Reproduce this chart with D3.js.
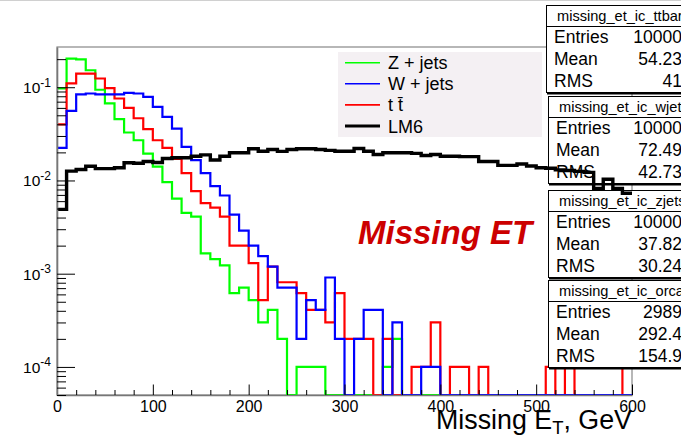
<!DOCTYPE html>
<html>
<head>
<meta charset="utf-8">
<script src="https://cdn.jsdelivr.net/npm/d3@7"></script>
<style>
body { margin: 0; background: #fff; }
text { font-family: "Liberation Sans", Arial, Helvetica, sans-serif; }
</style>
</head>
<body>
<svg id="chart" width="681" height="435"></svg>
<script>
// histogram contents, 60 bins of 10 GeV from 0 to 600 (normalised)
const binWidth = 10;
const zjets = [0.097, 0.203, 0.199, 0.152, 0.094, 0.067, 0.0454, 0.0327, 0.027, 0.0194,
    0.0141, 0.0096, 0.0064, 0.0045, 0.0041, 0.00165, 0.00143, 0.00123, 0.00062, 0.00071,
    0.00052, 0.0003, 0.00041, 0.0002, 0, 0.0001, 0.0001, 0.0001, 0, 0,
    0, 0, 0, 0, 0.0001, 0.0002, 0, 0, 0, 0,
    0, 0, 0, 0, 0, 0, 0, 0, 0, 0,
    0, 0, 0, 0, 0, 0, 0, 0, 0, 0];
const ttbar = [0.040, 0.11, 0.14, 0.14, 0.124, 0.098, 0.0757, 0.06, 0.0465, 0.0355,
    0.027, 0.0224, 0.017, 0.012, 0.0077, 0.0057, 0.0051, 0.0041, 0.002, 0.002,
    0.0013, 0.00052, 0.00119, 0.00081, 0.00081, 0.00062, 0.00041, 0.00041, 0.0003, 0.00062,
    0.0002, 0.0002, 0.0002, 0, 0.0002, 0, 0, 0.0001, 0.0001, 0.0003,
    0, 0.0001, 0.0001, 0, 0.0001, 0, 0, 0, 0, 0,
    0, 0.0001, 0, 0.0001, 0, 0, 0, 0, 0, 0.0001];
const wjets = [0.0224, 0.0557, 0.084, 0.0856, 0.084, 0.084, 0.084, 0.087, 0.0856, 0.0787,
    0.0615, 0.048, 0.036, 0.0229, 0.0165, 0.012, 0.0087, 0.0069, 0.0043, 0.0029,
    0.002, 0.00154, 0.00119, 0.00071, 0.00071, 0.0002, 0.00052, 0.00041, 0.00091, 0.0002,
    0, 0.0002, 0.00041, 0.00041, 0, 0.0003, 0, 0, 0.0001, 0.0001,
    0, 0, 0, 0, 0, 0, 0, 0, 0, 0,
    0, 0, 0, 0, 0, 0, 0, 0, 0, 0];
const lm6 = [0.0049, 0.0126, 0.0131, 0.0142, 0.0134, 0.0134, 0.0137, 0.0155, 0.0153, 0.016,
    0.0156, 0.0172, 0.0175, 0.0175, 0.0182, 0.0188, 0.0166, 0.0182, 0.0198, 0.0198,
    0.0219, 0.0206, 0.0215, 0.0205, 0.0215, 0.0219, 0.0219, 0.0215, 0.021, 0.0206,
    0.0206, 0.022, 0.0206, 0.019, 0.0198, 0.0198, 0.0198, 0.0195, 0.0185, 0.019,
    0.0182, 0.0182, 0.018, 0.018, 0.016, 0.016, 0.0145, 0.0145, 0.015, 0.0143,
    0.0137, 0.0135, 0.013, 0.0128, 0.0125, 0.0122, 0.0082, 0.0103, 0.0082, 0.0073];

const xTicks = [0, 100, 200, 300, 400, 500, 600];
const yTicks = [1e-4, 1e-3, 1e-2, 1e-1];
const yExponents = ["-4", "-3", "-2", "-1"];

const legendLabels = ["Z + jets", "W + jets", "t t\u0304", "LM6"];
const legendColors = ["#00ff00", "#0000ff", "#ff0000", "#000000"];

const statNames = ["missing_et_ic_ttbar", "missing_et_ic_wjets", "missing_et_ic_zjets", "missing_et_ic_orca"];
const statEntries = ["10000", "10000", "10000", "2989"];
const statMeans = ["54.23", "72.49", "37.82", "292.4"];
const statRms = ["41", "42.73", "30.24", "154.9"];

let svg = d3.select("#chart");

svg.append("rect")
    .attr("width", 681).attr("height", 435)
    .attr("fill", "#fff");
svg.append("line")
    .attr("x1", 0).attr("x2", 681).attr("y1", 0.5).attr("y2", 0.5)
    .attr("stroke", "#d0d0d0");

let x = d3.scaleLinear().domain([0, 600]).range([57, 632]);
let y = d3.scaleLog().domain([5e-5, 0.27]).range([395, 47]);

// frame
svg.append("rect")
    .attr("x", x(0)).attr("y", y(0.27))
    .attr("width", x(600) - x(0)).attr("height", y(5e-5) - y(0.27))
    .attr("fill", "none")
    .attr("stroke", "#888")
    .attr("stroke-width", 1.2);

function steps(values) {
    let pts = values.map((v, i) => [i * binWidth, v]);
    pts.push([values.length * binWidth, values[values.length - 1]]);
    return pts;
}

let line = d3.line()
    .x(d => x(d[0]))
    .y(d => d[1] > 0 ? y(d[1]) : y.range()[0])
    .curve(d3.curveStepAfter);

function drawHist(values, color, width) {
    svg.append("path")
        .datum(steps(values))
        .attr("d", line)
        .attr("fill", "none")
        .attr("stroke", color)
        .attr("stroke-width", width)
        .attr("stroke-linejoin", "miter");
}

drawHist(zjets, "#00ff00", 2.2);
drawHist(ttbar, "#ff0000", 2.2);
drawHist(wjets, "#0000ff", 2.2);

// legend
let legend = svg.append("g");
legend.append("rect")
    .attr("x", 338).attr("y", 52)
    .attr("width", 204).attr("height", 85)
    .attr("fill", "#f4f0f3");
legendLabels.forEach(function (label, i) {
    let ly = 62.7 + i * 21.1;
    legend.append("line")
        .attr("x1", 345).attr("x2", 380)
        .attr("y1", ly).attr("y2", ly)
        .attr("stroke", legendColors[i])
        .attr("stroke-width", i == 3 ? 3 : 1.6);
    legend.append("text")
        .attr("x", 388).attr("y", ly + 6.5)
        .style("font-size", "18px")
        .text(label);
});

// stat boxes
let boxTops = [5, 96, 190, 280];
let boxLefts = [546, 548, 548, 548];
statNames.forEach(function (name, i) {
    let g = svg.append("g").attr("transform", "translate(" + boxLefts[i] + "," + boxTops[i] + ")");
    g.append("rect")
        .attr("x", 0.5).attr("y", 0.5)
        .attr("width", 200).attr("height", 87)
        .attr("fill", "#fff")
        .attr("stroke", "#000");
    g.append("line")
        .attr("x1", 1).attr("x2", 201).attr("y1", 88.5).attr("y2", 88.5)
        .attr("stroke", "#000").attr("stroke-width", 2);
    g.append("line")
        .attr("x1", 0).attr("x2", 200).attr("y1", 21.5).attr("y2", 21.5)
        .attr("stroke", "#000");
    g.append("text")
        .attr("x", 11).attr("y", 16)
        .style("font-size", "14.6px")
        .text(name);
    let rows = [["Entries", statEntries[i]], ["Mean", statMeans[i]], ["RMS", statRms[i]]];
    rows.forEach(function (r, j) {
        let ry = 38 + j * 22;
        g.append("text")
            .attr("x", 8).attr("y", ry)
            .style("font-size", "17.5px")
            .text(r[0]);
        g.append("text")
            .attr("x", 682 - boxLefts[i]).attr("y", ry)
            .attr("text-anchor", "end")
            .style("font-size", "17.5px")
            .text(r[1]);
    });
});

drawHist(lm6, "#000000", 3.4);

// x axis
let xAxis = d3.axisBottom(x)
    .tickValues(xTicks)
    .tickSizeInner(-10.5)
    .tickSizeOuter(0)
    .tickPadding(6)
    .tickFormat(d3.format("d"));
let xMinor = d3.axisBottom(x)
    .tickValues(d3.range(0, 601, 20).filter(v => v % 100 != 0))
    .tickSize(-5)
    .tickFormat("");

let gx = svg.append("g").attr("transform", "translate(0," + y.range()[0] + ")").call(xAxis);
svg.append("g").attr("transform", "translate(0," + y.range()[0] + ")").call(xMinor)
    .select(".domain").remove();
gx.select(".domain").attr("stroke", "#777").attr("stroke-width", 1.6);
gx.selectAll("text")
    .style("font-size", "16px")
    .style("font-family", "'Liberation Sans', Arial, sans-serif")
    .attr("fill", "#000");

// y axis
let yAxis = d3.axisLeft(y)
    .tickValues(yTicks)
    .tickSizeInner(-18)
    .tickSizeOuter(0)
    .tickFormat("");
let yMinorVals = [];
[1e-5, 1e-4, 1e-3, 1e-2, 1e-1].forEach(function (dec) {
    for (let k = 2; k <= 9; k++) {
        let v = k * dec;
        if (v >= 5e-5 && v <= 0.27) yMinorVals.push(v);
    }
});
let yMinor = d3.axisLeft(y)
    .tickValues(yMinorVals)
    .tickSize(-9)
    .tickFormat("");

let gy = svg.append("g").attr("transform", "translate(" + x(0) + ",0)").call(yAxis);
svg.append("g").attr("transform", "translate(" + x(0) + ",0)").call(yMinor)
    .select(".domain").remove();
gy.select(".domain").attr("stroke", "#777").attr("stroke-width", 1.6);

yTicks.forEach(function (v, i) {
    let t = svg.append("text")
        .attr("x", 51).attr("y", y(v) + 6)
        .attr("text-anchor", "end");
    t.append("tspan").style("font-size", "15.5px").text("10");
    t.append("tspan").style("font-size", "12px").attr("dy", -6.5).text(yExponents[i]);
});

// axis title
let xt = svg.append("text")
    .attr("x", 632).attr("y", 429)
    .attr("text-anchor", "end")
    .style("font-size", "26.8px");
xt.append("tspan").text("Missing E");
xt.append("tspan").style("font-size", "18.5px").attr("dy", 5).text("T");
xt.append("tspan").attr("dy", -5).text(", GeV");

// plot title
svg.append("text")
    .attr("x", 358).attr("y", 244)
    .style("font-size", "33px")
    .style("font-weight", "bold")
    .style("font-style", "italic")
    .attr("fill", "#cc0000")
    .text("Missing ET");
</script>
</body>
</html>
